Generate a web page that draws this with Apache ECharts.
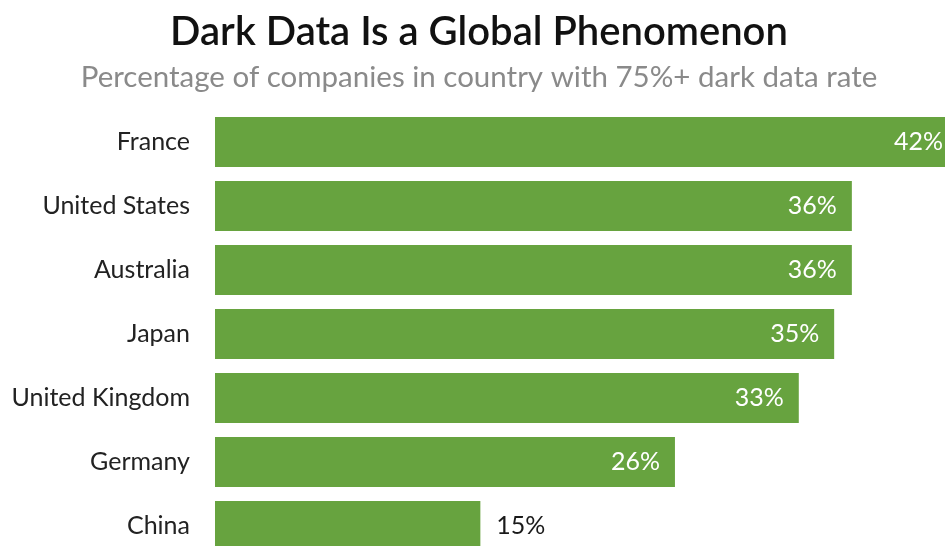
<!DOCTYPE html>
<html>
<head>
<meta charset="utf-8">
<script src="https://cdn.jsdelivr.net/npm/echarts@6/dist/echarts.min.js"></script>
<style>
  html, body { margin: 0; padding: 0; background: #fff; }
  #chart { width: 945px; height: 546px; }
</style>
</head>
<body>
<div id="chart"></div>
<script>
// data
var countries = ["France", "United States", "Australia", "Japan", "United Kingdom", "Germany", "China"]
var shares = [42, 36, 36, 35, 33, 26, 15]

var green = "#67a33f"
var myEcharts = echarts.init(document.getElementById("chart"))

// short bars get their label outside, in dark text
var barData = shares.map(function(v) {
    if (v < 20) {
        return { value: v, label: { position: "right", color: "#1a1a1a", distance: 16 } }
    }
    return v
})

var option = {
    backgroundColor: "#fff",
    animation: false,
    title: {
        text: "Dark Data Is a Global Phenomenon",
        subtext: "Percentage of companies in country with 75%+ dark data rate",
        left: 474, // centred a little right of the canvas middle
        textAlign: "center",
        top: 7,
        itemGap: 10,
        textStyle: { fontFamily: "Lato", fontSize: 40, fontWeight: 600, color: "#111" },
        subtextStyle: { fontFamily: "Lato", fontSize: 29.5, color: "#8a8a8a" }
    },
    grid: {
        left: 215,
        right: -13,
        top: 110,
        bottom: -12,
        outerBoundsMode: "none"
    },
    xAxis: {
        type: "value",
        min: 0,
        max: 42,
        show: false
    },
    yAxis: {
        type: "category",
        data: countries,
        inverse: true,
        axisLine: { show: false },
        axisTick: { show: false },
        axisLabel: { fontFamily: "Lato", fontSize: 25, color: "#222", margin: 25 }
    },
    series: [{
        type: "bar",
        data: barData,
        barWidth: 50,
        itemStyle: { color: green },
        label: {
            show: true,
            position: "insideRight",
            distance: 15,
            formatter: "{c}%",
            fontFamily: "Lato",
            fontSize: 25,
            color: "#fff"
        }
    }]
}
myEcharts.setOption(option)
</script>
</body>
</html>
